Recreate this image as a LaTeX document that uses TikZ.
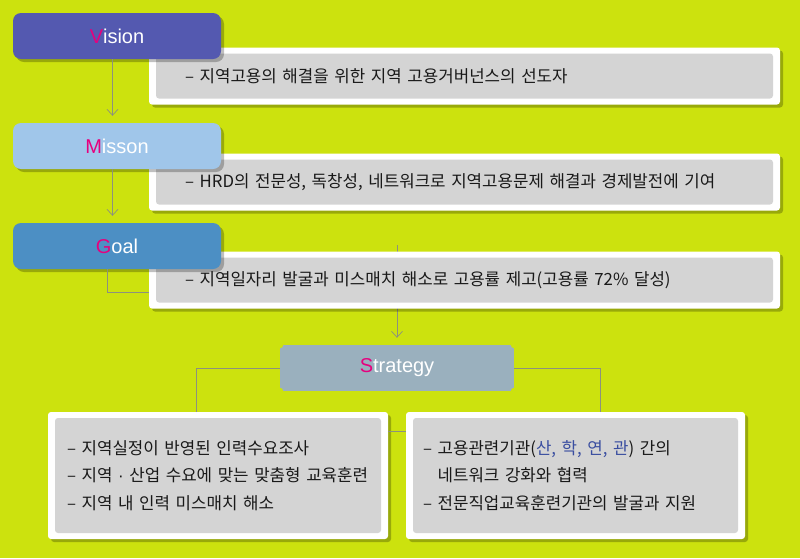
\documentclass[tikz,border=0pt]{standalone}
\usepackage{fontspec}
\setmainfont{Liberation Sans}
\newfontfamily\kr{Noto Sans CJK KR}
\usetikzlibrary{shadows,arrows.meta,calc}
\definecolor{bg}{RGB}{204,226,14}
\definecolor{viscol}{RGB}{84,89,176}
\definecolor{miscol}{RGB}{160,198,234}
\definecolor{goalcol}{RGB}{76,143,196}
\definecolor{strcol}{RGB}{154,176,190}
\definecolor{boxgray}{RGB}{212,212,212}
\definecolor{mag}{RGB}{230,0,126}
\definecolor{kblue}{RGB}{58,78,160}
\definecolor{linecol}{RGB}{140,145,125}
\begin{document}
\begin{tikzpicture}[x=1pt,y=-1pt,
  lab/.style={fill=#1, rounded corners=8pt, minimum width=208pt, minimum height=46pt,
    text=white, font=\fontsize{20}{20}\selectfont, inner sep=0pt,
    drop shadow={shadow xshift=3pt, shadow yshift=-3pt, opacity=0.25, fill=black}},
  tbox/.style={fill=white, rounded corners=3pt, inner sep=0pt, align=left,
    font=\kr\fontsize{16.8}{27.5}\selectfont, text=black!90,
    drop shadow={shadow xshift=3pt, shadow yshift=-3pt, opacity=0.25, fill=black},
    path picture={\fill[boxgray] ([xshift=7pt,yshift=-6pt]path picture bounding box.north west)
      rectangle ([xshift=-7pt,yshift=6pt]path picture bounding box.south east);}},
  conn/.style={draw=linecol, line width=0.7pt},
  arr/.style={conn, -{Straight Barb[length=6pt,width=11pt,line width=0.7pt]}, shorten >=7pt}
]
\useasboundingbox (0,0) rectangle (800,558);
\fill[bg] (0,0) rectangle (800,558);

\coordinate (gs) at (397,245);

% text boxes
\node[tbox, minimum width=631pt, minimum height=57pt, text width=559pt] (vt) at (464.5,76)
  {– 지역고용의 해결을 위한 지역 고용거버넌스의 선도자};
\node[tbox, minimum width=631pt, minimum height=57pt, text width=559pt] (mt) at (464.5,182)
  {– HRD의 전문성, 독창성, 네트워크로 지역고용문제 해결과 경제발전에 기여};

% labels
\node[lab=viscol] (vis) at (117,36) {\textcolor{mag}{V}ision};
\node[lab=miscol] (mis) at (117,146) {\textcolor{mag}{M}isson};
\draw[arr] ([xshift=-4.5pt]vis.south) -- ([xshift=-4.5pt]mis.north);

% strategy node
\node[fill=strcol, minimum width=234pt, minimum height=46pt, inner sep=0pt,
  text=white, font=\fontsize{20}{20}\selectfont] (str) at (397,368) {\textcolor{mag}{S}trategy};
\foreach \a in {north west, north east, south west, south east}
  \fill[bg] (str.\a) circle (3.5pt);

\draw[arr] (gs) -- (str.north);
\node[tbox, minimum width=631pt, minimum height=57pt, text width=559pt] (gt) at (464.5,280)
  {– 지역일자리 발굴과 미스매치 해소로 고용률 제고(고용률 72\% 달성)};
\node[lab=goalcol] (goal) at (117,246) {\textcolor{mag}{G}oal};
\draw[arr] ([xshift=-4.5pt]mis.south) -- ([xshift=-4.5pt]goal.north);
\draw[conn] ([xshift=-10pt]goal.south) |- ([yshift=-12.5pt]gt.west);

\node[tbox, minimum width=340pt, minimum height=127pt, text width=302pt] (lb) at (218,475.5)
  {\mbox{– 지역실정이 반영된 인력수요조사}\\
   \mbox{– 지역 {\rmfamily ·} 산업 수요에 맞는 맞춤형 교육훈련}\\
   \mbox{– 지역 내 인력 미스매치 해소}};
\node[tbox, minimum width=339pt, minimum height=127pt, text width=305pt] (rb) at (575.5,475.5)
  {– 고용관련기관(\textcolor{kblue}{산, 학, 연, 관}) 간의\\
   \phantom{– }네트워크 강화와 협력\\
   – 전문직업교육훈련기관의 발굴과 지원};

\draw[conn] (str.west) -| ([xshift=-22pt]lb.north);
\draw[conn] (str.east) -| ([xshift=24.5pt]rb.north);
\draw[conn] ([yshift=44.5pt]lb.east) -- ([yshift=44.5pt]rb.west);
\end{tikzpicture}
\end{document}
